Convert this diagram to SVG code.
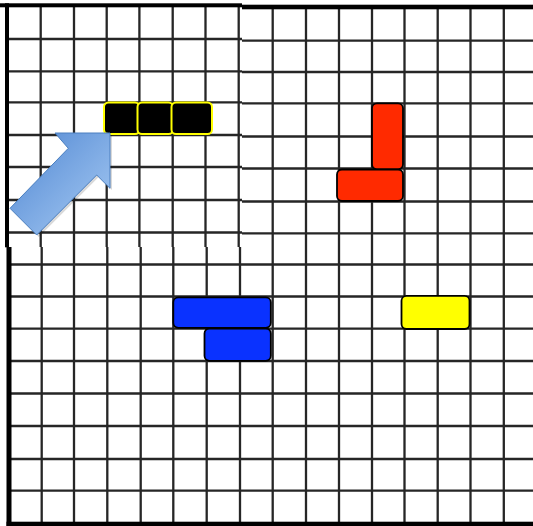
<svg xmlns="http://www.w3.org/2000/svg" width="533" height="526" viewBox="0 0 533 526">
  <style>
    .grid { stroke: #262626; stroke-width: 2.3; fill: none; }
    .border { fill: #000; }
    .cell { fill: #000; stroke: #FFFF00; stroke-width: 2; }
    .piece { stroke: #000; stroke-width: 1.8; }
    .red { fill: #FF2A00; }
    .blue { fill: #0A32FF; }
    .yellow { fill: #FFFF00; }
  </style>
  <defs>
    <linearGradient id="arrowGrad" x1="0" y1="0" x2="1" y2="1">
      <stop offset="0" stop-color="#4F86D2"/>
      <stop offset="1" stop-color="#A9CCF4"/>
    </linearGradient>
  </defs>
  <rect x="0" y="0" width="533" height="526" fill="#fff"/>
  <g id="grid">
    <!-- main grid (right half and bottom-left) -->
    <path class="grid" d="M41.7 9V526 M74 9V526 M107.3 9V526 M140.7 9V526 M173.3 9V526 M206.7 9V526 M240 9V526 M272.7 9V526 M306 9V526 M339 9V526 M372 9V526 M404.5 9V526 M437.7 9V526 M470.5 9V526 M503.8 9V526"/>
    <path class="grid" d="M8 40.7H533 M8 72H533 M8 103.3H533 M8 136.5H533 M8 168.5H533 M8 201.5H533 M8 233.3H533 M8 264.5H533 M8 296.5H533 M8 328.7H533 M8 361H533 M8 393.5H533 M8 426H533 M8 459H533 M8 490.7H533"/>
    <rect class="border" x="242" y="4.7" width="291" height="4.6"/>
    <rect class="border" x="6.5" y="247" width="5" height="279"/>
    <rect class="border" x="6.5" y="521.7" width="526.5" height="4.3"/>
    <!-- top-left panel -->
    <rect x="0" y="0" width="242" height="247" fill="#fff"/>
    <path class="grid" d="M40.7 5V247 M74 5V247 M106.7 5V247 M139.4 5V247 M172.7 5V247 M205.5 5V247 M238.7 5V247"/>
    <path class="grid" d="M7 39H242 M7 71.3H242 M7 102.3H242 M7 135H242 M7 167H242 M7 200H242 M7 232.5H242"/>
    <rect class="border" x="0" y="3.3" width="242" height="4"/>
    <rect class="border" x="5" y="3.3" width="4" height="244"/>
  </g>
  <g id="black-cells">
    <rect class="cell" x="104" y="102.5" width="35.5" height="31.5" rx="4.5"/>
    <rect class="cell" x="137.5" y="102.5" width="35.5" height="31.5" rx="4.5"/>
    <rect class="cell" x="171.5" y="102.5" width="40.5" height="31.5" rx="4.5"/>
  </g>
  <g id="red-piece">
    <rect class="piece red" x="372" y="103.3" width="31" height="66" rx="5"/>
    <rect class="piece red" x="337" y="169.5" width="66" height="31.5" rx="5"/>
  </g>
  <g id="blue-piece">
    <rect class="piece blue" x="173.3" y="297.3" width="97.5" height="30.5" rx="5"/>
    <rect class="piece blue" x="204.5" y="328.5" width="66.3" height="32.3" rx="5"/>
  </g>
  <g id="yellow-piece">
    <rect class="piece yellow" x="401.5" y="295.8" width="68" height="33.2" rx="5"/>
  </g>
  <g id="connectors">
    <polygon points="112,135 112,190 98.7,177 38.7,237 12,210.3 70.3,150.3 57,135" fill="#000" opacity="0.15"/>
    <polygon points="110,133 110,188.3 96.7,175 36.7,235 10,208.3 68.3,148.3 55,133" fill="url(#arrowGrad)" stroke="#4A7FC0" stroke-width="1"/>
  </g>
</svg>
